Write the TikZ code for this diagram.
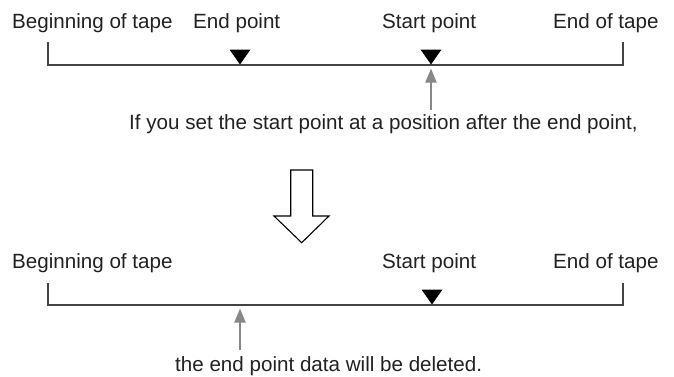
\documentclass[tikz,border=0pt]{standalone}
\usepackage{fontspec}
\setmainfont{Liberation Sans}
\usetikzlibrary{arrows.meta}
\definecolor{txt}{HTML}{222222}
\definecolor{tape}{HTML}{444444}
\definecolor{pointer}{HTML}{888888}
\begin{document}
\begin{tikzpicture}[x=1pt,y=-1pt,
  lbl/.style={anchor=base west,inner sep=0pt,text=txt,font=\fontsize{20.6}{24}\selectfont},
  tapeline/.style={draw=tape,line width=1.1pt},
  marker/.style={fill=black},
  pointerarrow/.style={draw=pointer,line width=2pt,-{Triangle[length=14pt,width=11pt]}},
  hollow/.style={draw=black,line width=1.1pt,fill=white,line join=miter}]
\useasboundingbox[fill=white] (0,0) rectangle (674,376);
% ---------- upper tape ----------
\node[lbl] (bot1) at (12,28.5) {Beginning of tape};
\node[lbl] (ep1) at (193,28.5) {End point};
\node[lbl] (sp1) at (382,28.5) {Start point};
\node[lbl] (eot1) at (553,28.5) {End of tape};
\coordinate (t1ltop) at (48,42);
\coordinate (t1l) at (48,65);
\coordinate (t1r) at (623,65);
\coordinate (t1rtop) at (623,42);
\draw[tapeline] (t1ltop) -- (t1l) -- (t1r) -- (t1rtop);
\coordinate (m1e) at (240,64.5);
\coordinate (m1s) at (431,64.5);
\fill[marker] (m1e) -- ++(-10.5,-15) -- ++(21,0) -- cycle;
\fill[marker] (m1s) -- ++(-10.5,-15) -- ++(21,0) -- cycle;
\coordinate (p1tail) at (431,110);
\coordinate (p1tip) at (431,68.5);
\draw[pointerarrow] (p1tail) -- (p1tip);
\node[lbl] (msg1) at (129,129) {If you set the start point at a position after the end point,};
% ---------- hollow arrow ----------
\draw[hollow] (290.7,170) -- (312.7,170) -- (312.7,216) -- (329,216) -- (301.7,242.7)
  -- (274,216) -- (290.7,216) -- cycle;
% ---------- lower tape ----------
\node[lbl] (bot2) at (12,268.3) {Beginning of tape};
\node[lbl] (sp2) at (382,268.3) {Start point};
\node[lbl] (eot2) at (553,268.3) {End of tape};
\coordinate (t2ltop) at (48,283);
\coordinate (t2l) at (48,305);
\coordinate (t2r) at (623,305);
\coordinate (t2rtop) at (623,283);
\draw[tapeline] (t2ltop) -- (t2l) -- (t2r) -- (t2rtop);
\coordinate (m2s) at (432,304.5);
\fill[marker] (m2s) -- ++(-10.5,-15) -- ++(21,0) -- cycle;
\coordinate (p2tail) at (240,350);
\coordinate (p2tip) at (240,308.5);
\draw[pointerarrow] (p2tail) -- (p2tip);
\node[lbl] (msg2) at (175,371.5) {the end point data will be deleted.};
\end{tikzpicture}
\end{document}
